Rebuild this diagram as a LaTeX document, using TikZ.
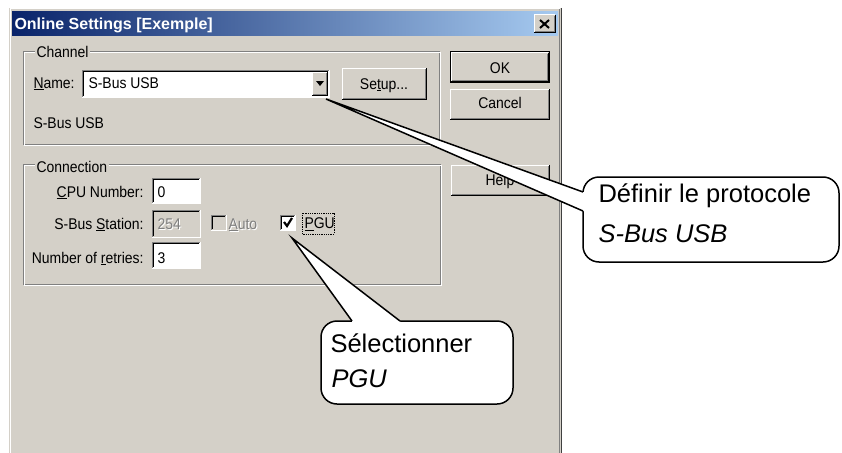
\documentclass[tikz,border=0pt]{standalone}
\usepackage{fontspec}
\setmainfont{Liberation Sans}
\newfontfamily\dlgfont[FakeStretch=0.9]{Liberation Sans}
\definecolor{dlg}{HTML}{D4D0C8}
\definecolor{dkgray}{HTML}{808080}
\definecolor{dkborder}{HTML}{404040}
\definecolor{titleL}{HTML}{0A246A}
\definecolor{titleR}{HTML}{A6CAF0}
\newcommand{\sunkbox}[5]{%
 \fill[#5] (#1,#2) rectangle (#3,#4);
 \draw[dkgray] (#1,#4) -- (#1,#2) -- (#3,#2);
 \draw[black] ({#1+1},{#4-1}) -- ({#1+1},{#2+1}) -- ({#3-1},{#2+1});
 \draw[white] (#1,#4) -- (#3,#4) -- (#3,#2);
}
\newcommand{\raisedbtn}[4]{%
 \fill[dlg] (#1,#2) rectangle (#3,#4);
 \draw[white] (#1,#4) -- (#1,#2) -- (#3,#2);
 \draw[black] (#1,#4) -- (#3,#4) -- (#3,#2);
 \draw[dkgray] ({#1+1},{#4-1}) -- ({#3-1},{#4-1}) -- ({#3-1},{#2+1});
}
\newcommand{\etchframe}[4]{%
 \draw[dkgray] (#1,#2) rectangle (#3,#4);
 \draw[white] ({#1+1},{#4+1}) -- ({#1+1},{#2+1}) -- ({#3+1},{#2+1}) -- ({#3+1},{#4+1}) -- ({#1+1},{#4+1});
}
\tikzset{
 dtext/.style={font=\dlgfont\fontsize{15.5}{17}\selectfont, inner sep=0pt, anchor=base west},
 dtextr/.style={dtext, anchor=base east},
 dtextc/.style={dtext, anchor=base},
 distext/.style={dtext, text=dkgray},
 shadowtext/.style={dtext, text=white},
 grouplabel/.style={dtext, fill=dlg, inner xsep=2pt, inner ysep=1pt},
 callbox/.style={draw=black, fill=white, line width=1.5pt, rounded corners=16pt, inner sep=0pt},
 calltext/.style={font=\fontsize{25.5}{30}\selectfont, inner sep=0pt, anchor=base west},
 tailline/.style={draw=black, line width=1.5pt, line join=miter},
}
\begin{document}
\begin{tikzpicture}[x=1pt, y=-1pt, line width=1pt]
\useasboundingbox (0,0) rectangle (842,452);
\clip (0,0) rectangle (842,452);
\fill[white] (0,0) rectangle (842,452);
% window
\fill[dlg] (9,8) rectangle (561,470);
\draw[white] (10,470) -- (10,9) -- (560,9);
\draw[dkgray] (559,9) -- (559,470);
\draw[dkborder] (561,8) -- (561,470);
% title bar
\shade[left color=titleL, right color=titleR] (12,12) rectangle (558,36);
\node[inner sep=0pt, anchor=base west, text=white, font=\fontsize{16}{18}\selectfont\bfseries] (title) at (14,30) {Online Settings [Exemple]};
\raisedbtn{534}{15}{555}{33}
\draw[line width=2pt] (540,20) -- (549,28) (549,20) -- (540,28);
\node[inner sep=0pt] (close) at (544.5,24) {};
% Channel group
\etchframe{23}{52}{439}{144}
\node[grouplabel] (chlabel) at (34,58) {Channel};
\node[dtext] (namelbl) at (33,88) {\underline{N}ame:};
\sunkbox{82}{70}{329}{97}{white}
\node[dtext] (nameval) at (88,88) {S-Bus USB};
\raisedbtn{312}{72}{327}{95}
\fill[black] (316,81) -- (324,81) -- (320,86) -- cycle;
\raisedbtn{342}{68}{426}{99}
\node[dtextc] (setup) at (384,89) {Se\underline{t}up...};
\node[dtext] (proto) at (33,128) {S-Bus USB};
% buttons
\draw[black] (450,52) rectangle (549,82);
\raisedbtn{451}{53}{548}{81}
\node[dtextc] (ok) at (500,73) {OK};
\raisedbtn{450}{89}{549}{119}
\node[dtextc] (cancel) at (500,108) {Cancel};
\raisedbtn{451}{165}{549}{195}
\node[dtextc] (help) at (500,185) {Help};
% Connection group
\etchframe{23}{164}{440}{284}
\node[grouplabel] (cnlabel) at (34,172) {Connection};
\node[dtextr] (cpulbl) at (144,197) {\underline{C}PU Number:};
\sunkbox{152}{178}{200}{203}{white}
\node[dtext] (cpuval) at (157,197) {0};
\node[dtextr] (stlbl) at (144,229) {S-Bus \underline{S}tation:};
\sunkbox{152}{210}{200}{237}{dlg}
\node[shadowtext] at (158,230) {254};
\node[distext] (stval) at (157,229) {254};
\sunkbox{211}{215}{226}{230}{dlg}
\node[shadowtext] at (229,230) {\underline{A}uto};
\node[distext] (auto) at (228,229) {\underline{A}uto};
\sunkbox{280}{215}{295}{230}{white}
\draw[line width=2.2pt, line join=miter] (284,222) -- (287,226) -- (292,218);
\node[dtext] (pgu) at (304,228.5) {\underline{P}GU};
\draw[densely dotted, line width=0.8pt] (302,213) rectangle (334,234);
\node[dtextr] (retlbl) at (144,263) {Number of \underline{r}etries:};
\sunkbox{152}{242}{200}{268}{white}
\node[dtext] (retval) at (157,263) {3};
% callout 1
\coordinate (tip1) at (326,99);
\coordinate (b1a) at (583,192);
\coordinate (b1b) at (583,211);
\node[callbox, minimum width=256pt, minimum height=85pt] (c1) at (711,219.5) {};
\fill[white] (tip1) -- (b1a) -- (587,192) -- (587,211) -- (b1b) -- cycle;
\draw[tailline] (b1a) -- (tip1) -- (b1b);
\node[calltext] (c1l1) at (598,202) {Définir le protocole};
\node[calltext] (c1l2) at (598,242.5) {\itshape S-Bus USB};
% callout 2
\coordinate (tip2) at (292,238);
\coordinate (b2a) at (352,321);
\coordinate (b2b) at (400,321);
\node[callbox, minimum width=192pt, minimum height=83pt] (c2) at (417,362.5) {};
\fill[white] (tip2) -- (b2a) -- (352,325) -- (400,325) -- (b2b) -- cycle;
\draw[tailline] (b2a) -- (tip2) -- (b2b);
\node[calltext] (c2l1) at (330,352.5) {Sélectionner};
\node[calltext] (c2l2) at (331,387) {\itshape PGU};
\end{tikzpicture}
\end{document}
